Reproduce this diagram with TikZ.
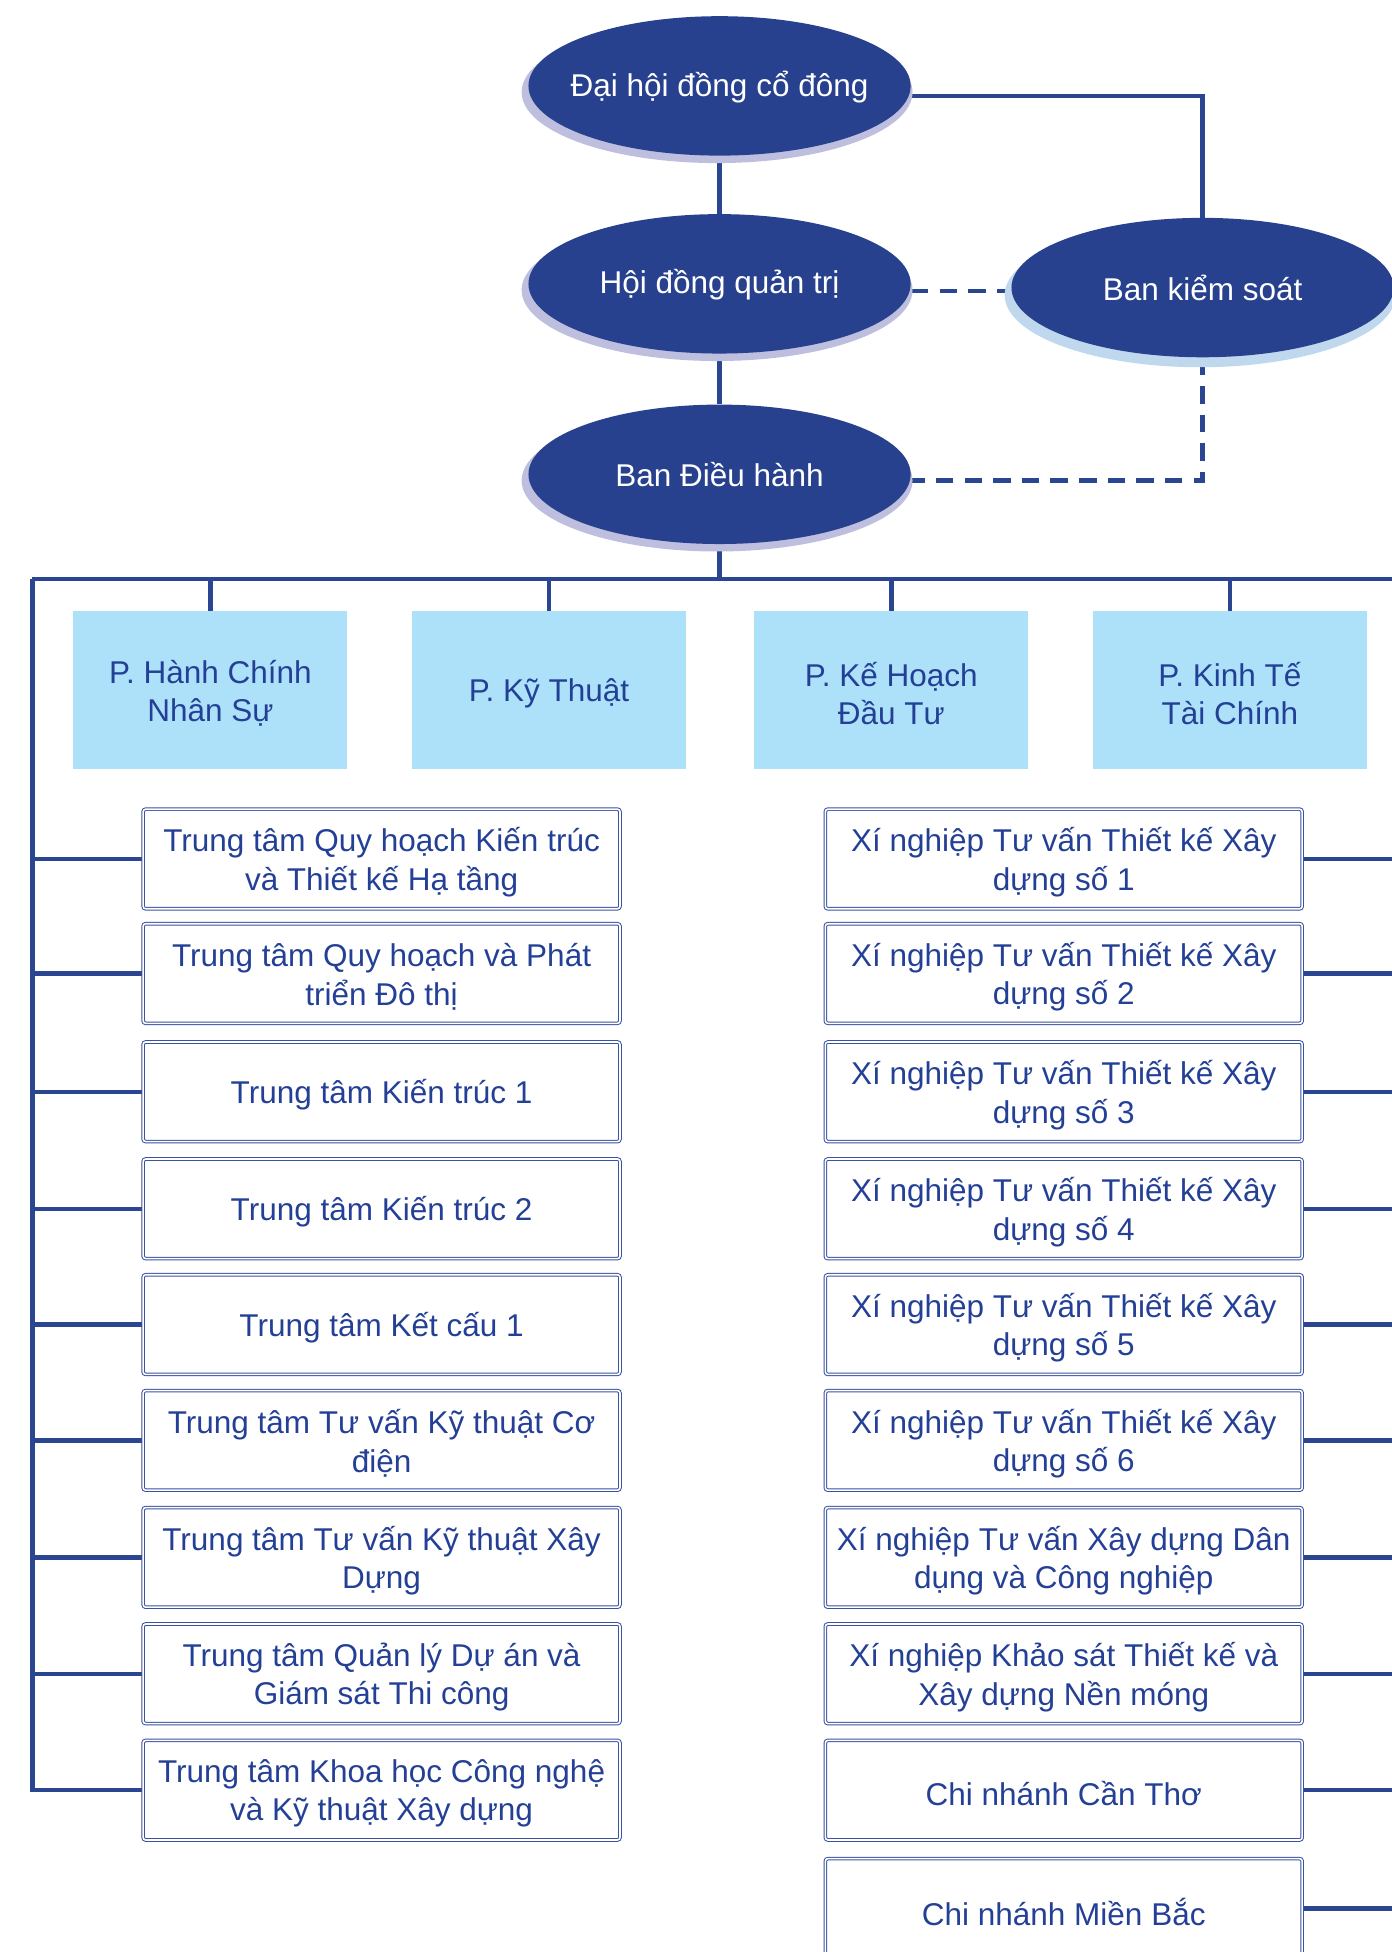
\documentclass[tikz,border=0pt]{standalone}
\usepackage{fontspec}
\setmainfont{Liberation Sans}
\usetikzlibrary{shapes.geometric,backgrounds}
\definecolor{navy}{RGB}{39,65,142}
\definecolor{lineblue}{RGB}{42,70,145}
\definecolor{txtblue}{RGB}{36,64,150}
\definecolor{shadowlav}{RGB}{190,190,222}
\definecolor{shadowsky}{RGB}{192,216,237}
\definecolor{deptfill}{RGB}{172,225,249}
\definecolor{boxline}{RGB}{58,82,160}
\newcommand\dn[1]{\raisebox{-2.5pt}[\height][\depth]{#1}}
\begin{document}
\begin{tikzpicture}[x=1pt,y=-1pt,
  every node/.style={font=\fontsize{25.3}{31}\selectfont},
  oval/.style={ellipse, fill=navy, text=white, minimum width=307pt, minimum height=112pt, inner xsep=-40pt, inner ysep=0pt},
  dept/.style={fill=deptfill, text=txtblue, minimum width=220pt, minimum height=127pt, align=center, inner sep=0pt},
  unitbox/.style={draw=boxline, line width=0.8pt, double=white, double distance=1.3pt, rounded corners=2pt, text=txtblue, minimum width=383pt, minimum height=80pt, align=center, inner sep=0pt},
  conn/.style={draw=lineblue, line width=3.5pt},
  dconn/.style={conn, dash pattern=on 14pt off 9pt}
]
\useasboundingbox (0,0) rectangle (1118,1568);
\clip (0,0) rectangle (1118,1568);

% shadows
\fill[shadowlav] (576,74) ellipse [x radius=157pt, y radius=57pt];
\fill[shadowlav] (576,233) ellipse [x radius=157pt, y radius=57pt];
\fill[shadowlav] (576,386) ellipse [x radius=157pt, y radius=57pt];
\fill[shadowsky] (964,237) ellipse [x radius=157pt, y radius=58pt];

% top ellipses
\node[oval] (dh) at (578,69) {\raisebox{-1pt}[\height][\depth]{Đại hội đồng cổ đông}};
\node[oval] (hd) at (578,228) {\raisebox{-1pt}[\height][\depth]{Hội đồng quản trị}};
\node[oval] (bdh) at (578,381) {Ban Điều hành};
\node[oval] (bks) at (966,231) {Ban kiểm soát};

% departments
\node[dept] (d1) at (169,554.5) {\dn{P. Hành Chính}\\\dn{Nhân Sự}};
\node[dept] (d2) at (441,554.5) {\dn{P. Kỹ Thuật}};
\node[dept] (d3) at (716,554.5) {\dn{P. Kế Hoạch}\\\dn{Đầu Tư}};
\node[dept] (d4) at (988,554.5) {\dn{P. Kinh Tế}\\\dn{Tài Chính}};

% left units
\node[unitbox] (l1) at (306.5,690) {\dn{Trung tâm Quy hoạch Kiến trúc}\\\dn{và Thiết kế Hạ tầng}};
\node[unitbox] (l2) at (306.5,782) {\dn{Trung tâm Quy hoạch và Phát}\\\dn{triển Đô thị}};
\node[unitbox] (l3) at (306.5,877) {\dn{Trung tâm Kiến trúc 1}};
\node[unitbox] (l4) at (306.5,971) {\dn{Trung tâm Kiến trúc 2}};
\node[unitbox] (l5) at (306.5,1064) {\dn{Trung tâm Kết cấu 1}};
\node[unitbox] (l6) at (306.5,1157) {\dn{Trung tâm Tư vấn Kỹ thuật Cơ}\\\dn{điện}};
\node[unitbox] (l7) at (306.5,1251) {\dn{Trung tâm Tư vấn Kỹ thuật Xây}\\\dn{Dựng}};
\node[unitbox] (l8) at (306.5,1344.5) {\dn{Trung tâm Quản lý Dự án và}\\\dn{Giám sát Thi công}};
\node[unitbox] (l9) at (306.5,1438) {\dn{Trung tâm Khoa học Công nghệ}\\\dn{và Kỹ thuật Xây dựng}};

% right units
\node[unitbox] (r1) at (854.5,690) {\dn{Xí nghiệp Tư vấn Thiết kế Xây}\\\dn{dựng số 1}};
\node[unitbox] (r2) at (854.5,782) {\dn{Xí nghiệp Tư vấn Thiết kế Xây}\\\dn{dựng số 2}};
\node[unitbox] (r3) at (854.5,877) {\dn{Xí nghiệp Tư vấn Thiết kế Xây}\\\dn{dựng số 3}};
\node[unitbox] (r4) at (854.5,971) {\dn{Xí nghiệp Tư vấn Thiết kế Xây}\\\dn{dựng số 4}};
\node[unitbox] (r5) at (854.5,1064) {\dn{Xí nghiệp Tư vấn Thiết kế Xây}\\\dn{dựng số 5}};
\node[unitbox] (r6) at (854.5,1157) {\dn{Xí nghiệp Tư vấn Thiết kế Xây}\\\dn{dựng số 6}};
\node[unitbox] (r7) at (854.5,1251) {\dn{Xí nghiệp Tư vấn Xây dựng Dân}\\\dn{dụng và Công nghiệp}};
\node[unitbox] (r8) at (854.5,1344.5) {\dn{Xí nghiệp Khảo sát Thiết kế và}\\\dn{Xây dựng Nền móng}};
\node[unitbox] (r9) at (854.5,1438) {\dn{Chi nhánh Cần Thơ}};
\node[unitbox] (r10) at (854.5,1533) {\dn{Chi nhánh Miền Bắc}};

% connectors
\begin{scope}[on background layer]
\clip (0,0) rectangle (1118,1568);
\coordinate (dhE) at ([yshift=-8pt]dh.east);
\coordinate (hdE) at ([yshift=-6pt]hd.east);
\coordinate (bdhE) at ([yshift=-5pt]bdh.east);
\coordinate (busL) at (26,465);
\coordinate (busR) at (1135,465);
\draw[conn] (dh.south) -- (hd.north);
\draw[conn] (hd.south) -- (bdh.north);
\draw[conn] (dhE) -| (bks.north);
\draw[dconn] (hdE) -- (hdE -| bks.west);
\draw[dconn] (bks.south) |- (bdhE);
\draw[conn] (bdh.south) -- (bdh.south |- busL);
\draw[conn] (busL) -- (busR);
\foreach \d in {d1,d2,d3,d4} \draw[conn] (\d.north) -- (\d.north |- busL);
\draw[conn] (busL) |- (l9.west);
\foreach \u in {l1,l2,l3,l4,l5,l6,l7,l8} \draw[conn] (\u.west) -- (\u.west -| busL);
\draw[conn] (busR) |- (r10.east);
\foreach \u in {r1,r2,r3,r4,r5,r6,r7,r8,r9} \draw[conn] (\u.east) -- (\u.east -| busR);
\end{scope}
\end{tikzpicture}
\end{document}
